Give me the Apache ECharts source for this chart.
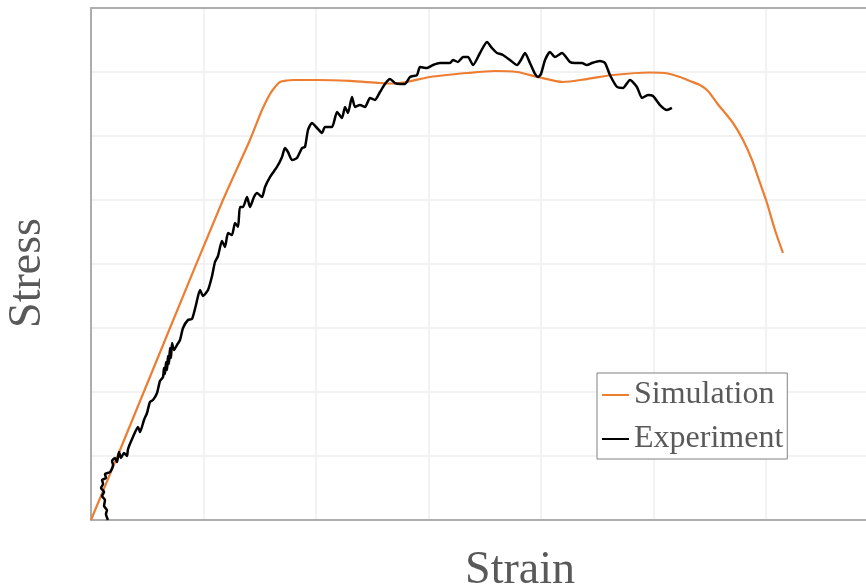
<!DOCTYPE html>
<html>
<head>
<meta charset="utf-8">
<script src="https://cdn.jsdelivr.net/npm/echarts@6/dist/echarts.min.js"></script>
<style>html,body{margin:0;padding:0;background:#fff;}#c{width:866px;height:588px;}</style>
</head>
<body>
<div id="c"></div>
<script>
// Strain (gridline units) and stress values
const simulation = [[0,0],[0.258,109.4],[0.684,292.2],[1.173,500],[1.413,593.8],[1.52,640.6],[1.591,665.6],[1.636,676.6],[1.68,684.4],[1.742,686.7],[1.796,687.5],[2.009,687.5],[2.302,686],[2.569,682.8],[2.702,682],[3.013,692.2],[3.342,698.4],[3.591,701.6],[3.787,700],[3.973,692.2],[4.196,684.4],[4.409,689],[4.64,695.3],[4.969,699.2],[5.102,698.4],[5.236,692.2],[5.324,685.9],[5.413,679.7],[5.484,670.3],[5.564,651.6],[5.707,620.3],[5.796,593.8],[5.876,562.5],[5.947,526.6],[6.009,495.3],[6.08,453.1],[6.151,417.2]];
const experiment = [[0.151,0],[0.133,9.4],[0.142,15.6],[0.116,21.9],[0.124,31.3],[0.098,37.5],[0.116,43.8],[0.089,50],[0.107,56.3],[0.098,62.5],[0.133,65.6],[0.124,71.9],[0.169,75],[0.196,85.9],[0.187,92.2],[0.213,96.9],[0.231,90.6],[0.249,106.3],[0.267,96.9],[0.293,104.7],[0.32,100],[0.329,110.9],[0.373,129.7],[0.418,145.3],[0.436,137.5],[0.471,156.3],[0.498,167.2],[0.524,184.4],[0.551,187.5],[0.587,198.4],[0.613,217.2],[0.64,223.4],[0.649,237.5],[0.658,228.1],[0.667,246.9],[0.676,234.4],[0.684,256.3],[0.693,243.8],[0.702,268.8],[0.711,253.1],[0.72,276.6],[0.738,265.6],[0.764,273.4],[0.791,281.3],[0.818,300],[0.862,312.5],[0.898,314.1],[0.933,335.9],[0.969,359.4],[0.996,350],[1.04,359.4],[1.076,381.3],[1.102,403.1],[1.129,412.5],[1.164,435.9],[1.191,426.6],[1.218,448.4],[1.253,445.3],[1.28,464.1],[1.307,457.8],[1.324,489.1],[1.351,489.1],[1.387,504.7],[1.413,489.1],[1.449,504.7],[1.476,510.9],[1.52,504.7],[1.547,520.3],[1.591,535.9],[1.653,551.6],[1.698,567.2],[1.724,581.3],[1.751,575],[1.787,562.5],[1.831,565.6],[1.876,581.3],[1.902,582.8],[1.929,609.4],[1.964,620.3],[2.009,612.5],[2.053,604.7],[2.08,614.1],[2.142,614.1],[2.187,637.5],[2.231,628.1],[2.258,645.3],[2.284,635.9],[2.32,660.9],[2.347,645.3],[2.391,648.4],[2.436,645.3],[2.48,659.4],[2.524,656.3],[2.569,668.8],[2.613,681.3],[2.658,689.1],[2.702,682.8],[2.747,681.3],[2.791,681.3],[2.836,692.2],[2.898,695.3],[2.924,707.8],[2.987,706.3],[3.04,710.9],[3.102,714.1],[3.191,714.1],[3.218,718.8],[3.262,715.6],[3.307,723.4],[3.351,723.4],[3.396,710.9],[3.458,729.7],[3.52,746.9],[3.564,737.5],[3.609,729.7],[3.662,726.6],[3.724,718.8],[3.787,710.9],[3.822,718.8],[3.858,729.7],[3.902,714.1],[3.947,696.9],[3.973,692.2],[4.0,696.9],[4.036,718.8],[4.08,731.3],[4.124,723.4],[4.187,729.7],[4.258,715.6],[4.302,714.1],[4.364,714.1],[4.409,710.9],[4.453,714.1],[4.524,717.2],[4.569,714.1],[4.613,695.3],[4.676,676.6],[4.729,675],[4.791,687.5],[4.853,676.6],[4.898,659.4],[4.951,664.1],[4.996,662.5],[5.058,648.4],[5.12,640.6],[5.164,643.8]];
const seriesNames = ['Simulation', 'Experiment'];
const xTitle = 'Strain';
const yTitle = 'Stress';

const FONT = "'Liberation Serif', 'Times New Roman', serif";
const axisGray = '#adadad';
const gridGray = '#eeeeee';
const chart = echarts.init(document.getElementById('c'), null, {renderer: 'canvas'});
chart.setOption({
  animation: false,
  backgroundColor: '#ffffff',
  grid: {left: 91, top: 8, bottom: 68, right: -83, containLabel: false, outerBoundsMode: 'none'},
  legend: {
    orient: 'vertical', left: 597, top: 373,
    backgroundColor: '#ffffff', borderColor: '#808080', borderWidth: 1,
    padding: [6, 4, 4, 5], itemGap: 12, itemWidth: 27, itemHeight: 2, icon: 'rect',
    textStyle: {fontFamily: FONT, fontSize: 32, color: '#595959'},
    data: seriesNames
  },
  xAxis: [{
    type: 'value', min: 0, max: 7.627, interval: 1, position: 'bottom',
    name: xTitle, nameLocation: 'middle', nameGap: 28,
    nameTextStyle: {fontFamily: FONT, fontSize: 46, color: '#595959'},
    axisLine: {show: true, lineStyle: {color: axisGray, width: 2}},
    axisTick: {show: false}, axisLabel: {show: false},
    splitLine: {show: true, lineStyle: {color: gridGray, width: 1.5}}
  }, {
    type: 'value', min: 0, max: 7.627, position: 'top',
    axisLine: {show: true, onZero: false, lineStyle: {color: axisGray, width: 2}},
    axisTick: {show: false}, axisLabel: {show: false}, splitLine: {show: false}
  }],
  yAxis: {
    type: 'value', min: 0, max: 800, interval: 100,
    name: yTitle, nameLocation: 'middle', nameGap: 40,
    nameTextStyle: {fontFamily: FONT, fontSize: 46, color: '#595959', padding: [0, 18, 0, 0]},
    axisLine: {show: true, lineStyle: {color: axisGray, width: 2}},
    axisTick: {show: false}, axisLabel: {show: false},
    splitLine: {show: true, lineStyle: {color: gridGray, width: 1.5}}
  },
  series: [{
    name: seriesNames[0], type: 'line', data: simulation, showSymbol: false, smooth: 0.25,
    lineStyle: {color: '#ED7D31', width: 2.2}, itemStyle: {color: '#ED7D31'}
  }, {
    name: seriesNames[1], type: 'line', data: experiment, showSymbol: false, smooth: 0.2,
    lineStyle: {color: '#000000', width: 2.5}, itemStyle: {color: '#000000'}
  }]
});
</script>
</body>
</html>
